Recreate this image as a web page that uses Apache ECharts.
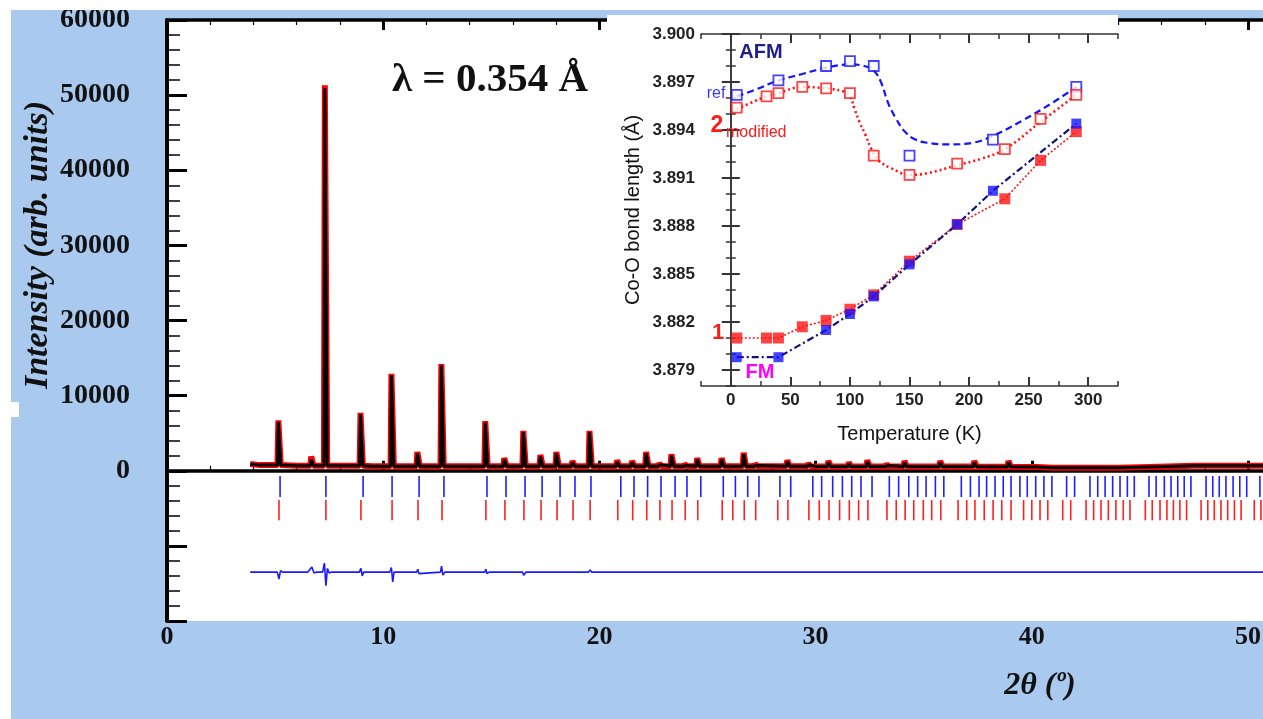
<!DOCTYPE html>
<html>
<head>
<meta charset="utf-8">
<script src="https://cdn.jsdelivr.net/npm/echarts@6/dist/echarts.min.js"></script>
<style>
  html, body { margin: 0; padding: 0; background: #a9c9ef; }
  #chart { width: 1263px; height: 719px; }
</style>
</head>
<body>
<div id="chart"></div>
<script>
// ---------- Powder pattern (main panel) ----------
// Background level of the profile, read at points between reflections
const bgAngles = [3.85, 4.3, 6.0, 9.5, 20.0, 30.0, 38.0, 40.2, 41.0, 44.0, 45.0, 47.5, 50.0, 52.0];
const bgCounts = [900, 750, 650, 600, 600, 550, 520, 500, 400, 400, 480, 650, 650, 650];

// Reflection positions (2θ, degrees) and peak intensities
const peakAngles = [5.18, 6.70, 7.33, 8.98, 10.41, 11.61, 12.72, 14.75, 15.63, 16.51, 17.30, 18.04, 18.78,
  19.57, 20.85, 21.54, 22.19, 22.80, 23.36, 23.97, 24.55, 25.68, 26.70, 27.23, 28.72, 29.69, 30.62, 31.56,
  32.42, 33.30, 34.14, 35.79, 37.37, 38.95];
const calcHeights = [6500, 1500, 50900, 7500, 12700, 2300, 14000, 6400, 1500, 5100, 1900, 2300, 1100,
  5100, 1200, 1100, 2300, 800, 2000, 700, 1500, 1500, 2200, 700, 1200, 800, 1100, 950,
  1200, 700, 1100, 1100, 1100, 1100];
const obsHeights = [6700, 1900, 51300, 7700, 12900, 2500, 14200, 6600, 1700, 5300, 2100, 2500, 1300,
  5300, 1400, 1300, 2500, 1000, 2200, 900, 1700, 1700, 2400, 900, 1400, 1000, 1300, 1100,
  1400, 900, 1300, 1300, 1300, 1300];

// Difference curve (obs - calc), drawn shifted below the Bragg markers
const diffAngles = [3.85, 5.10, 5.18, 5.25, 5.35, 6.50, 6.70, 6.80, 6.90, 7.20, 7.28, 7.35, 7.42, 7.50, 7.60,
  8.90, 8.97, 9.03, 9.10, 10.30, 10.38, 10.44, 10.50, 11.55, 11.60, 11.66, 11.72, 12.65, 12.70, 12.76, 12.85,
  14.70, 14.75, 14.80, 14.90, 16.45, 16.50, 16.60, 19.50, 19.57, 19.65, 52.0];
const diffValues = [-13500, -13500, -14400, -13300, -13500, -13500, -12800, -13600, -13500, -13500, -12300, -15300, -13000, -13600, -13500,
  -13500, -13000, -14000, -13500, -13500, -12900, -14800, -13500, -13500, -13100, -13700, -13500, -13500, -12700, -13900, -13500,
  -13500, -13100, -13700, -13500, -13500, -13900, -13500, -13500, -13200, -13500, -13500];

// Bragg reflection markers for the two phases (2θ, degrees)
const braggBlue = [5.23, 7.35, 9.07, 10.41, 11.66, 12.81, 14.80, 15.68, 16.56, 17.35, 18.18, 18.87, 19.61,
  20.99, 21.60, 22.23, 22.85, 23.50, 24.05, 24.69, 25.73, 26.29, 26.86, 27.38, 28.35, 28.85, 29.87, 30.28,
  30.79, 31.24, 31.67, 32.10, 32.61, 33.41, 33.84, 34.31, 34.72, 35.11, 35.54, 35.93, 36.74, 37.16, 37.56,
  37.91, 38.30, 38.68, 39.04, 39.45, 39.79, 40.18, 40.56, 40.93, 41.61, 41.98, 42.69, 43.05, 43.39, 43.74,
  44.08, 44.42, 44.74, 45.42, 45.75, 46.13, 46.44, 46.75, 47.05, 47.36, 48.06, 48.37, 48.67, 48.98, 49.31,
  49.62, 49.94, 50.55];
const braggRed = [5.18, 7.35, 8.97, 10.41, 11.61, 12.72, 14.75, 15.63, 16.51, 17.30, 18.04, 18.78, 19.57,
  20.85, 21.54, 22.19, 22.80, 23.36, 23.97, 24.55, 25.68, 26.17, 26.70, 27.23, 28.25, 28.72, 29.69, 30.17,
  30.62, 31.11, 31.56, 31.99, 32.42, 33.30, 33.73, 34.14, 34.54, 34.98, 35.37, 35.79, 36.59, 36.99, 37.37,
  37.80, 38.21, 38.61, 39.04, 39.62, 40.00, 40.38, 40.74, 41.43, 41.80, 42.51, 42.86, 43.20, 43.54, 43.89,
  44.23, 44.54, 45.25, 45.57, 45.93, 46.25, 46.55, 46.85, 47.16, 47.83, 48.14, 48.44, 48.75, 49.06, 49.37,
  49.68, 50.29, 50.60];
const braggBlueSpan = [-700, -3500];
const braggRedSpan = [-3900, -6600];

const mainYTicks = { min: -20000, max: 60000, step: 10000 };
const mainXTicks = { min: 0, max: 52, step: 10 };

// ---------- Inset: Co-O bond length vs temperature ----------
const afmRefT = [5, 40, 80, 100, 120, 150, 220, 290];
const afmRefBond = [3.8962, 3.8971, 3.8980, 3.8983, 3.8980, 3.8924, 3.8934, 3.8967];
const afmModT = [5, 30, 40, 60, 80, 100, 120, 150, 190, 230, 260, 290];
const afmModBond = [3.8954, 3.8961, 3.8963, 3.8967, 3.8966, 3.8963, 3.8924, 3.8912, 3.8919, 3.8928, 3.8947, 3.8962];
const fm1T = [5, 30, 40, 60, 80, 100, 120, 150, 190, 230, 260, 290];
const fm1Bond = [3.8810, 3.8810, 3.8810, 3.8817, 3.8821, 3.8828, 3.8837, 3.8858, 3.8881, 3.8897, 3.8921, 3.8939];
const fmRefT = [5, 40, 80, 100, 120, 150, 190, 220, 290];
const fmRefBond = [3.8798, 3.8798, 3.8815, 3.8825, 3.8836, 3.8856, 3.8881, 3.8902, 3.8944];

// Guide-to-the-eye curves through the AFM points
const afmRefFitT = [5, 20, 40, 60, 80, 100, 112, 120, 126, 132, 138, 146, 155, 165, 183, 203, 222, 245, 270, 290];
const afmRefFitBond = [3.8961, 3.8965, 3.8971, 3.8975, 3.8979, 3.8981, 3.8980, 3.8977, 3.8970, 3.8957, 3.8948, 3.8939,
  3.8934, 3.8932, 3.8931, 3.8932, 3.8937, 3.8946, 3.8957, 3.8967];
const afmModFitT = [5, 20, 30, 40, 60, 80, 95, 100, 104, 108, 113, 118, 124, 135, 150, 165, 190, 210, 230, 260, 290];
const afmModFitBond = [3.8953, 3.8958, 3.8961, 3.8963, 3.8967, 3.8966, 3.8964, 3.8961, 3.8953, 3.8945, 3.8937, 3.8928,
  3.8921, 3.8916, 3.8912, 3.8913, 3.8918, 3.8922, 3.8928, 3.8945, 3.8962];

const insetXLabels = [0, 50, 100, 150, 200, 250, 300];
const insetYLabels = [3.879, 3.882, 3.885, 3.888, 3.891, 3.894, 3.897, 3.900];

// ---------- helpers ----------
const zip = (xs, ys) => xs.map((x, i) => [x, ys[i]]);

// Stick-like profile: background knots plus a narrow peak at each reflection
function buildProfile(heights) {
  const events = [];
  bgAngles.forEach((a, i) => events.push({ a, bg: true, v: bgCounts[i] }));
  peakAngles.forEach((a, i) => events.push({ a, bg: false, v: heights[i] }));
  events.sort((p, q) => p.a - q.a);
  const pts = [];
  let base = bgCounts[0];
  for (const e of events) {
    if (e.bg) { base = e.v; pts.push([e.a, e.v]); }
    else { pts.push([e.a - 0.07, base], [e.a - 0.03, e.v], [e.a + 0.03, e.v], [e.a + 0.08, base]); }
  }
  return pts;
}

function braggSeries(angles, span, color) {
  return {
    type: 'custom', xAxisIndex: 0, yAxisIndex: 0, z: 2, silent: true,
    data: angles.map(a => [a, span[0], span[1]]),
    encode: { x: 0, y: [1, 2] },
    renderItem: (params, api) => {
      const p0 = api.coord([api.value(0), api.value(1)]);
      const p1 = api.coord([api.value(0), api.value(2)]);
      return { type: 'line', shape: { x1: p0[0], y1: p0[1], x2: p1[0], y2: p1[1] },
               style: { stroke: color, lineWidth: 1.6 } };
    }
  };
}

const serif = '"Liberation Serif", "Times New Roman", serif';
const sans = '"Liberation Sans", Arial, sans-serif';

const insetAxisLine = { lineStyle: { color: '#333', width: 1.5 } };
const insetMinorTick = { inside: true, length: 5, lineStyle: { color: '#333', width: 1.5 } };
const insetMajorTick = (vals) => ({ inside: true, length: 9, customValues: vals, lineStyle: { color: '#333', width: 2 } });
const tickLabelStyle = { fontFamily: sans, fontWeight: 'bold', fontSize: 17, color: '#222' };

const chart = echarts.init(document.getElementById('chart'));
chart.setOption({
  animation: false,
  backgroundColor: '#a9c9ef',
  grid: [
    // the 2θ range runs on past the right edge of the page
    { left: 167, top: 20, width: 52 * 21.62, height: 601, show: true, backgroundColor: '#fff', borderWidth: 0,
      outerBoundsMode: 'none' },
    { left: 701, top: 34, width: 417, height: 352, z: 6, outerBoundsMode: 'none' }
  ],
  xAxis: [
    { // 2θ axis, bottom
      gridIndex: 0, type: 'value', position: 'bottom',
      min: mainXTicks.min, max: mainXTicks.max, interval: mainXTicks.step,
      axisLine: { lineStyle: { color: '#000', width: 3.5 } },
      axisTick: { inside: true, length: 10, lineStyle: { color: '#000', width: 3 } },
      minorTick: { show: true, splitNumber: 5, length: 5, lineStyle: { color: '#000', width: 1.2 } },
      splitLine: { show: false },
      axisLabel: { fontFamily: serif, fontWeight: 'bold', fontSize: 26, color: '#111', margin: 3,
                   formatter: v => (v % 10 === 0 ? String(v) : '') }
    },
    { // frame, top
      gridIndex: 0, type: 'value', position: 'top',
      min: mainXTicks.min, max: mainXTicks.max, interval: mainXTicks.step,
      axisLine: { lineStyle: { color: '#000', width: 3.5 } },
      axisTick: { inside: true, length: 10, lineStyle: { color: '#000', width: 3 } },
      minorTick: { show: true, splitNumber: 5, length: 5, lineStyle: { color: '#000', width: 1.2 } },
      splitLine: { show: false }, axisLabel: { show: false }
    },
    { // inset temperature axis
      gridIndex: 1, type: 'value', position: 'bottom', min: -25, max: 325, interval: 25, z: 7,
      name: 'Temperature (K)', nameLocation: 'middle', nameGap: 38,
      nameTextStyle: { fontFamily: sans, fontSize: 20, color: '#111' },
      axisLine: insetAxisLine, axisTick: insetMinorTick, splitLine: { show: false },
      axisLabel: Object.assign({ margin: 6, customValues: insetXLabels }, tickLabelStyle)
    },
    { gridIndex: 1, type: 'value', position: 'bottom', min: -25, max: 325, z: 7,
      axisLine: { show: false }, axisTick: insetMajorTick(insetXLabels), axisLabel: { show: false }, splitLine: { show: false } },
    { gridIndex: 1, type: 'value', position: 'top', min: -25, max: 325, interval: 25, z: 7,
      axisLine: insetAxisLine, axisTick: insetMinorTick, axisLabel: { show: false }, splitLine: { show: false } },
    { gridIndex: 1, type: 'value', position: 'top', min: -25, max: 325, z: 7,
      axisLine: { show: false }, axisTick: insetMajorTick(insetXLabels), axisLabel: { show: false }, splitLine: { show: false } }
  ],
  yAxis: [
    { // intensity axis
      gridIndex: 0, type: 'value', position: 'left',
      min: mainYTicks.min, max: mainYTicks.max, interval: mainYTicks.step,
      axisLine: { lineStyle: { color: '#000', width: 4 } },
      axisTick: { inside: true, length: 20, lineStyle: { color: '#000', width: 3 } },
      minorTick: { show: true, splitNumber: 5, length: 13, lineStyle: { color: '#000', width: 1.5 } },
      splitLine: { show: false },
      axisLabel: { fontFamily: serif, fontWeight: 'bold', fontSize: 28, color: '#111', margin: 37,
                   formatter: v => (v >= 0 ? String(v) : '') }
    },
    { // inset bond-length axis
      gridIndex: 1, type: 'value', position: 'left', min: 3.878, max: 3.900, interval: 0.001, z: 7,
      name: 'Co-O bond length (Å)', nameLocation: 'middle', nameGap: 58,
      nameTextStyle: { fontFamily: sans, fontSize: 20, color: '#111' },
      axisLine: insetAxisLine, axisTick: insetMinorTick, splitLine: { show: false },
      axisLabel: Object.assign({ margin: 6, customValues: insetYLabels, formatter: v => v.toFixed(3) }, tickLabelStyle)
    },
    { gridIndex: 1, type: 'value', position: 'left', min: 3.878, max: 3.900, z: 7,
      axisLine: { show: false }, axisTick: insetMajorTick(insetYLabels), axisLabel: { show: false }, splitLine: { show: false } },
    { gridIndex: 1, type: 'value', position: 'right', min: 3.878, max: 3.900, interval: 0.001, z: 7,
      axisLine: insetAxisLine, axisTick: insetMinorTick, axisLabel: { show: false }, splitLine: { show: false } },
    { gridIndex: 1, type: 'value', position: 'right', min: 3.878, max: 3.900, z: 7,
      axisLine: { show: false }, axisTick: insetMajorTick(insetYLabels), axisLabel: { show: false }, splitLine: { show: false } }
  ],
  graphic: [
    // page strips and the white panel behind the inset
    { type: 'rect', z: 1, silent: true, shape: { x: 0, y: 0, width: 1263, height: 10 }, style: { fill: '#fff' } },
    { type: 'rect', z: 1, silent: true, shape: { x: 0, y: 0, width: 11, height: 719 }, style: { fill: '#fff' } },
    { type: 'rect', z: 1, silent: true, shape: { x: 0, y: 402, width: 19, height: 15 }, style: { fill: '#fff' } },
    { type: 'rect', z: 4, silent: true, shape: { x: 607, y: 15, width: 511, height: 434 }, style: { fill: '#fff' } },
    // main panel annotations
    { type: 'text', z: 20, x: 38, y: 245, rotation: Math.PI / 2, style: { text: 'Intensity (arb. units)',
      fontFamily: serif, fontWeight: 'bold', fontStyle: 'italic', fontSize: 34, fill: '#111',
      align: 'center', verticalAlign: 'middle' } },
    { type: 'text', z: 20, x: 490, y: 80, style: { text: 'λ = 0.354 Å', fontFamily: serif, fontWeight: 'bold',
      fontSize: 41, fill: '#111', align: 'center', verticalAlign: 'middle' } },
    { type: 'text', z: 20, x: 1040, y: 686, style: { text: '2θ (º)', fontFamily: serif, fontWeight: 'bold',
      fontStyle: 'italic', fontSize: 32, fill: '#111', align: 'center', verticalAlign: 'middle' } },
    // inset annotations
    { type: 'text', z: 20, x: 761, y: 52, style: { text: 'AFM', fontFamily: sans, fontWeight: 'bold',
      fontSize: 20, fill: '#1e1e8c', align: 'center', verticalAlign: 'middle' } },
    { type: 'text', z: 20, x: 716, y: 94, style: { text: 'ref', fontFamily: sans,
      fontSize: 16, fill: '#3a3aff', align: 'center', verticalAlign: 'middle' } },
    { type: 'text', z: 20, x: 717, y: 126, style: { text: '2', fontFamily: sans, fontWeight: 'bold',
      fontSize: 23, fill: '#ff1a1a', align: 'center', verticalAlign: 'middle' } },
    { type: 'text', z: 20, x: 726, y: 133, style: { text: 'modified', fontFamily: sans,
      fontSize: 16, fill: '#ff1a1a', align: 'left', verticalAlign: 'middle' } },
    { type: 'text', z: 20, x: 718, y: 333, style: { text: '1', fontFamily: sans, fontWeight: 'bold',
      fontSize: 22, fill: '#ff1a1a', align: 'center', verticalAlign: 'middle' } },
    { type: 'text', z: 20, x: 760, y: 372, style: { text: 'FM', fontFamily: sans, fontWeight: 'bold',
      fontSize: 20, fill: '#ff00ff', align: 'center', verticalAlign: 'middle' } }
  ],
  series: [
    // observed (red, thick) and calculated (black) profiles
    { type: 'line', xAxisIndex: 0, yAxisIndex: 0, z: 2, showSymbol: false, silent: true,
      data: buildProfile(obsHeights), lineStyle: { color: '#ff0000', width: 6 } },
    { type: 'line', xAxisIndex: 0, yAxisIndex: 0, z: 3, showSymbol: false, silent: true,
      data: buildProfile(calcHeights), lineStyle: { color: '#000', width: 3 } },
    braggSeries(braggBlue, braggBlueSpan, '#1f1fff'),
    braggSeries(braggRed, braggRedSpan, '#ff2020'),
    { type: 'line', xAxisIndex: 0, yAxisIndex: 0, z: 2, showSymbol: false, silent: true,
      data: zip(diffAngles, diffValues), lineStyle: { color: '#1a1aff', width: 1.6 } },

    // inset curves
    { type: 'line', xAxisIndex: 2, yAxisIndex: 1, z: 8, showSymbol: false, smooth: 0.4,
      data: zip(afmRefFitT, afmRefFitBond), lineStyle: { color: '#1414ff', width: 2.2, type: [7, 4] } },
    { type: 'line', xAxisIndex: 2, yAxisIndex: 1, z: 8, showSymbol: false, smooth: 0.4,
      data: zip(afmModFitT, afmModFitBond), lineStyle: { color: '#ff1414', width: 2.6, type: [2, 3] } },
    { type: 'line', xAxisIndex: 2, yAxisIndex: 1, z: 8, showSymbol: false,
      data: zip(fm1T, fm1Bond), lineStyle: { color: '#ff1414', width: 1.6, type: [2, 2] } },
    { type: 'line', xAxisIndex: 2, yAxisIndex: 1, z: 8, showSymbol: false,
      data: zip(fmRefT, fmRefBond), lineStyle: { color: '#10107a', width: 2.2, type: [7, 3, 2, 3] } },

    // inset markers
    { type: 'scatter', xAxisIndex: 2, yAxisIndex: 1, z: 9, symbol: 'rect', symbolSize: 10,
      data: zip(afmRefT, afmRefBond), itemStyle: { color: '#fff', borderColor: '#1414ff', borderWidth: 1.8 } },
    { type: 'scatter', xAxisIndex: 2, yAxisIndex: 1, z: 9, symbol: 'rect', symbolSize: 10,
      data: zip(afmModT, afmModBond), itemStyle: { color: '#fff', borderColor: '#ff1414', borderWidth: 1.8 } },
    { type: 'scatter', xAxisIndex: 2, yAxisIndex: 1, z: 9, symbol: 'rect', symbolSize: 11,
      data: zip(fm1T, fm1Bond), itemStyle: { color: '#ff1414' } },
    { type: 'scatter', xAxisIndex: 2, yAxisIndex: 1, z: 10, symbol: 'rect', symbolSize: 10,
      data: zip(fmRefT, fmRefBond), itemStyle: { color: '#1414ff' } }
  ]
});
</script>
</body>
</html>
